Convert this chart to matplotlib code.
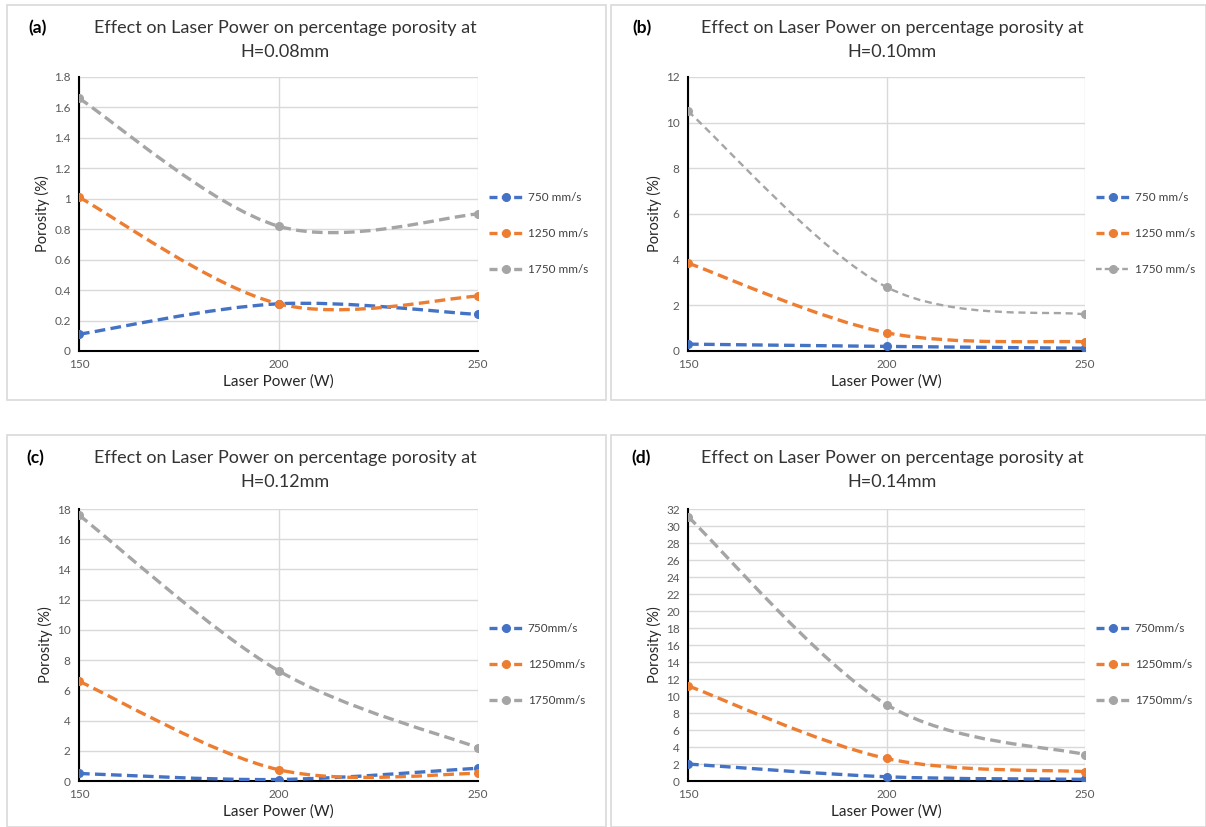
import matplotlib
matplotlib.use("Agg")
import matplotlib.pyplot as plt
from matplotlib.path import Path
from matplotlib.patches import PathPatch, Rectangle
from matplotlib.lines import Line2D

plt.rcParams["font.family"] = ["Lato", "DejaVu Sans"]

laser_power = [150, 200, 250]
speeds_a = ["750 mm/s", "1250 mm/s", "1750 mm/s"]
speeds_c = ["750mm/s", "1250mm/s", "1750mm/s"]

# porosity (%) per scan speed, panels a-d
por_a_750 = [0.11, 0.31, 0.24]
por_a_1250 = [1.01, 0.31, 0.36]
por_a_1750 = [1.66, 0.82, 0.90]

por_b_750 = [0.30, 0.20, 0.12]
por_b_1250 = [3.85, 0.80, 0.40]
por_b_1750 = [10.5, 2.80, 1.60]

por_c_750 = [0.50, 0.10, 0.85]
por_c_1250 = [6.60, 0.75, 0.50]
por_c_1750 = [17.6, 7.30, 2.20]

por_d_750 = [2.0, 0.50, 0.20]
por_d_1250 = [11.2, 2.65, 1.10]
por_d_1750 = [31.1, 9.0, 3.10]

panels = [
    ("(a)", "H=0.08mm", [por_a_750, por_a_1250, por_a_1750], speeds_a, 1.8, 0.2),
    ("(b)", "H=0.10mm", [por_b_750, por_b_1250, por_b_1750], speeds_a, 12, 2),
    ("(c)", "H=0.12mm", [por_c_750, por_c_1250, por_c_1750], speeds_c, 18, 2),
    ("(d)", "H=0.14mm", [por_d_750, por_d_1250, por_d_1750], speeds_c, 32, 2),
]

colors = ["#4472C4", "#ED7D31", "#A5A5A5"]
grid_c = "#D9D9D9"
text_c = "#595959"
W, H = 1206, 827

# axes rectangles in figure fraction (left, bottom, width, height)
axes_pos = [
    (0.0655, 0.5756, 0.3309, 0.3313),
    (0.5705, 0.5756, 0.3292, 0.3313),
    (0.0655, 0.0556, 0.3309, 0.3289),
    (0.5705, 0.0556, 0.3292, 0.3289),
]
boxes = [(7, 5, 599, 395), (611, 5, 595, 395), (7, 435, 599, 392), (611, 435, 595, 392)]
# title centre x, first line y; panel tag x (pixels)
title_pos = [(285, 28, 28), (892, 28, 632), (285, 458, 26), (892, 458, 631)]


def smooth_path(xs, ys):
    # Excel-style smoothed line as cubic bezier segments
    n = len(xs)
    verts = [(xs[0], ys[0])]
    codes = [Path.MOVETO]
    for i in range(n - 1):
        x0, y0 = (xs[i - 1], ys[i - 1]) if i > 0 else (xs[i], ys[i])
        x3, y3 = (xs[i + 2], ys[i + 2]) if i + 2 < n else (xs[i + 1], ys[i + 1])
        c1 = (xs[i] + (xs[i + 1] - x0) / 6, ys[i] + (ys[i + 1] - y0) / 6)
        c2 = (xs[i + 1] - (x3 - xs[i]) / 6, ys[i + 1] - (y3 - ys[i]) / 6)
        verts += [c1, c2, (xs[i + 1], ys[i + 1])]
        codes += [Path.CURVE4] * 3
    return Path(verts, codes)


fig = plt.figure(figsize=(12.06, 8.27), dpi=100)

for (bx, by, bw, bh) in boxes:
    fig.patches.append(Rectangle((bx / W, 1 - (by + bh) / H), bw / W, bh / H,
                                 transform=fig.transFigure, fill=False,
                                 edgecolor=grid_c, linewidth=1.2))

for k, (tag, hval, series, labels, ymax, ystep) in enumerate(panels):
    ax = fig.add_axes(axes_pos[k])
    handles = []
    for j, ys in enumerate(series):
        lw = 2.4
        dash = (3.2, 1.6)
        if k == 1 and j == 2:
            lw = 1.7
            dash = (3, 2)
        patch = PathPatch(smooth_path(laser_power, ys), facecolor="none",
                          edgecolor=colors[j], linewidth=lw, linestyle=(0, dash),
                          capstyle="butt", zorder=3)
        ax.add_patch(patch)
        ax.plot(laser_power, ys, "o", color=colors[j], markersize=5.5, zorder=4)
        handles.append(Line2D([0], [0], color=colors[j], linewidth=lw,
                              linestyle=(0, (2.4, 1.3)), marker="o", markersize=5.5))

    ax.set_xlim(150, 250)
    ax.set_ylim(0, ymax)
    ax.set_xticks(laser_power)
    yt = [round(i * ystep, 4) for i in range(int(round(ymax / ystep)) + 1)]
    ax.set_yticks(yt)
    ax.set_yticklabels(["{:g}".format(v) for v in yt])
    ax.grid(True, color=grid_c, linewidth=1.0, zorder=0)
    ax.set_axisbelow(True)
    for s in ["top", "right"]:
        ax.spines[s].set_visible(False)
    for s in ["left", "bottom"]:
        ax.spines[s].set_color("black")
        ax.spines[s].set_linewidth(1.5)
    ax.tick_params(length=0, labelsize=8.5, labelcolor=text_c, pad=6)
    ax.set_ylabel("Porosity (%)", fontsize=10.5, color="#262626", labelpad=3)
    ax.set_xlabel("Laser Power (W)", fontsize=11, color="#262626", labelpad=3)

    tx, ty, lx = title_pos[k]
    fig.text(tx / W, 1 - ty / H, "Effect on Laser Power on percentage porosity at",
             ha="center", va="center", fontsize=13, color="#333333")
    fig.text(tx / W, 1 - (ty + 24) / H, hval,
             ha="center", va="center", fontsize=13, color="#333333")
    fig.text(lx / W, 1 - ty / H, tag, ha="left", va="center", fontsize=12.5,
             fontweight="bold", color="black")

    ax.legend(handles, labels, loc="center left", bbox_to_anchor=(1.0, 0.428),
              frameon=False, fontsize=8.5, labelspacing=2.1, handlelength=3.0,
              handletextpad=0.3, labelcolor="#404040")

fig.savefig("out.png", dpi=100)
